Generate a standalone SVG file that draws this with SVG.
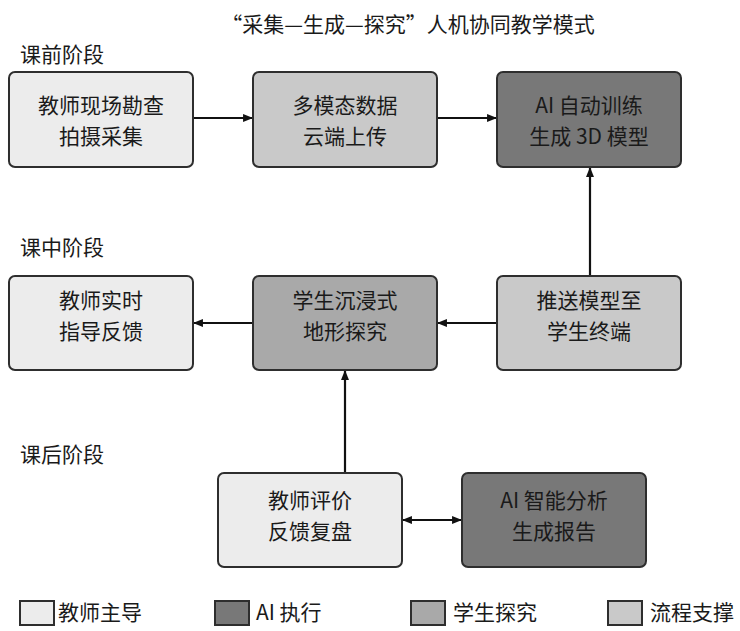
<svg xmlns="http://www.w3.org/2000/svg" width="740" height="631" viewBox="0 0 740 631">
<defs>
<style>
text{font-family:"Noto Sans CJK SC","Liberation Serif",serif;fill:#1a1a1a;font-size:21px}
.t{text-anchor:middle}
.box{stroke:#2e2e2e;stroke-width:2}
.teacher{fill:#ececec}
.ai{fill:#787878}
.stu{fill:#a9a9a9}
.proc{fill:#c9c9c9}
.c{stroke:#111;stroke-width:2.2;fill:none}
</style>
<marker id="ah" viewBox="0 0 10 10" refX="9" refY="5" markerWidth="4.5" markerHeight="4.5" orient="auto-start-reverse">
<path d="M0,1 L10,5 L0,9 Z" fill="#111"/>
</marker>
</defs>
<rect width="740" height="631" fill="#fff"/>
<text class="t" x="408" y="32">“采集—生成—探究”人机协同教学模式</text>
<text x="20" y="62">课前阶段</text>
<text x="20" y="255">课中阶段</text>
<text x="20" y="462">课后阶段</text>

<g id="connectors">
<line class="c" x1="193" y1="118" x2="252" y2="118" marker-end="url(#ah)"/>
<line class="c" x1="437" y1="118" x2="496" y2="118" marker-end="url(#ah)"/>
<line class="c" x1="590" y1="276" x2="590" y2="168" marker-end="url(#ah)"/>
<line class="c" x1="496" y1="323" x2="438" y2="323" marker-end="url(#ah)"/>
<line class="c" x1="253" y1="323" x2="194" y2="323" marker-end="url(#ah)"/>
<line class="c" x1="345" y1="473" x2="345" y2="371" marker-end="url(#ah)"/>
<line class="c" x1="403" y1="520" x2="461" y2="520" marker-start="url(#ah)" marker-end="url(#ah)"/>
</g>

<g id="n1"><rect class="box teacher" x="9" y="72" width="184" height="95" rx="6"/>
<text class="t" x="101" y="113">教师现场勘查</text><text class="t" x="101" y="144">拍摄采集</text></g>
<g id="n2"><rect class="box proc" x="253" y="72" width="184" height="95" rx="6"/>
<text class="t" x="345" y="113">多模态数据</text><text class="t" x="345" y="144">云端上传</text></g>
<g id="n3"><rect class="box ai" x="497" y="72" width="184" height="95" rx="6"/>
<text class="t" x="589" y="113">AI 自动训练</text><text class="t" x="589" y="144">生成 3D 模型</text></g>

<g id="n4"><rect class="box teacher" x="9" y="276" width="184" height="94" rx="6"/>
<text class="t" x="101" y="308">教师实时</text><text class="t" x="101" y="339">指导反馈</text></g>
<g id="n5"><rect class="box stu" x="253" y="276" width="184" height="94" rx="6"/>
<text class="t" x="345" y="308">学生沉浸式</text><text class="t" x="345" y="339">地形探究</text></g>
<g id="n6"><rect class="box proc" x="497" y="276" width="184" height="94" rx="6"/>
<text class="t" x="589" y="308">推送模型至</text><text class="t" x="589" y="339">学生终端</text></g>

<g id="n7"><rect class="box teacher" x="218" y="473" width="184" height="94" rx="6"/>
<text class="t" x="310" y="508">教师评价</text><text class="t" x="310" y="539">反馈复盘</text></g>
<g id="n8"><rect class="box ai" x="462" y="473" width="184" height="94" rx="6"/>
<text class="t" x="554" y="508">AI 智能分析</text><text class="t" x="554" y="539">生成报告</text></g>

<g id="legend">
<rect class="box teacher" x="20" y="601" width="34" height="24"/><text x="58" y="620">教师主导</text>
<rect class="box ai" x="215" y="601" width="34" height="24"/><text x="256" y="620">AI 执行</text>
<rect class="box stu" x="411" y="601" width="34" height="24"/><text x="453" y="620">学生探究</text>
<rect class="box proc" x="608" y="601" width="34" height="24"/><text x="650" y="620">流程支撑</text>
</g>
</svg>
